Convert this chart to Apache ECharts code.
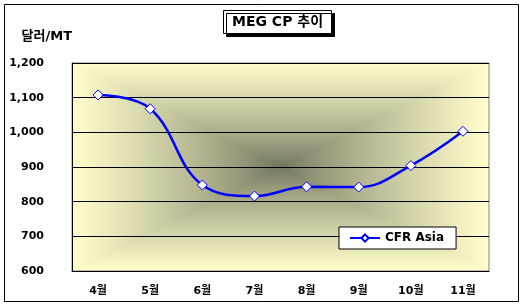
<!DOCTYPE html>
<html>
<head>
<meta charset="utf-8">
<script src="https://cdn.jsdelivr.net/npm/echarts@6/dist/echarts.min.js"></script>
<style>
html,body{margin:0;padding:0;background:#fff;}
#chart{width:524px;height:306px;}
</style>
</head>
<body>
<div id="chart"></div>
<script>
// ---- data ----
var months = ['4월', '5월', '6월', '7월', '8월', '9월', '10월', '11월'];
var cfrAsia = [1108, 1068, 848, 816, 843, 842, 904, 1003];
var yTicks = { min: 600, max: 1200, interval: 100 };
var titleText = 'MEG CP 추이';
var yUnit = '달러/MT';
var seriesName = 'CFR Asia';

// ---- layout ----
var W = 524, H = 306;
var G = { left: 72, top: 63, right: 489, bottom: 271 };

// rectangular "from center" gradient as a pattern canvas
function makeBg() {
  var c = document.createElement('canvas');
  c.width = W; c.height = H;
  var ctx = c.getContext('2d');
  var img = ctx.createImageData(W, H);
  var cx = (G.left + G.right) / 2, cy = (G.top + G.bottom) / 2;
  var hw = (G.right - G.left) / 2, hh = (G.bottom - G.top) / 2;
  var edge = [255, 255, 204], center = [112, 114, 92];
  for (var y = 0; y < H; y++) {
    for (var x = 0; x < W; x++) {
      var t = Math.max(Math.abs(x + 0.5 - cx) / hw, Math.abs(y + 0.5 - cy) / hh);
      if (t > 1) t = 1;
      t = Math.pow(t, 0.8);
      var i = (y * W + x) * 4;
      img.data[i] = center[0] + (edge[0] - center[0]) * t;
      img.data[i + 1] = center[1] + (edge[1] - center[1]) * t;
      img.data[i + 2] = center[2] + (edge[2] - center[2]) * t;
      img.data[i + 3] = 255;
    }
  }
  ctx.putImageData(img, 0, 0);
  return c;
}

var FONT = '"DejaVu Sans", "Noto Sans CJK KR", sans-serif';
var chart = echarts.init(document.getElementById('chart'), null, { renderer: 'canvas' });
chart.setOption({
  animation: false,
  backgroundColor: '#fff',
  title: {
    text: titleText,
    left: 223, top: 10,
    padding: [5, 9, 5, 9],
    backgroundColor: '#fff',
    borderColor: '#000', borderWidth: 1,
    shadowColor: '#000', shadowOffsetX: 3, shadowOffsetY: 3, shadowBlur: 0,
    textStyle: { fontFamily: FONT, fontSize: 14, fontWeight: 'bold', color: '#000' }
  },
  legend: {
    left: 339, top: 227,
    padding: [5, 12, 5, 10],
    backgroundColor: '#fff', borderColor: '#000', borderWidth: 1, borderRadius: 0,
    itemWidth: 30, itemHeight: 9,
    textStyle: { fontFamily: FONT, fontSize: 12, fontWeight: 'bold', color: '#000' },
    data: [seriesName]
  },
  graphic: [{
    type: 'rect', silent: true, z: 100,
    shape: { x: 4.5, y: 4.5, width: 514, height: 297 },
    style: { fill: 'none', stroke: '#000', lineWidth: 1 }
  }],
  grid: {
    left: G.left, top: G.top, right: W - G.right, bottom: H - G.bottom,
    show: true,
    backgroundColor: { image: makeBg(), repeat: 'no-repeat' },
    borderColor: '#808080', borderWidth: 1
  },
  xAxis: {
    type: 'category', data: months, boundaryGap: true,
    axisLine: { lineStyle: { color: '#000', width: 1 } },
    axisTick: { inside: true, length: 4, lineStyle: { color: '#000' } },
    axisLabel: { margin: 15, fontFamily: FONT, fontSize: 11, fontWeight: 'bold', color: '#000' },
    splitLine: { show: false }
  },
  yAxis: {
    type: 'value', min: yTicks.min, max: yTicks.max, interval: yTicks.interval,
    name: yUnit, nameLocation: 'end', nameGap: 20,
    nameTextStyle: { fontFamily: FONT, fontSize: 13, fontWeight: 'bold', color: '#000', align: 'right' },
    axisLine: { show: true, lineStyle: { color: '#000', width: 1 } },
    axisTick: { show: true, inside: true, length: 4, lineStyle: { color: '#000' } },
    axisLabel: {
      margin: 28, fontFamily: FONT, fontSize: 11, fontWeight: 'bold', color: '#000',
      formatter: function (v) { return v.toLocaleString('en-US'); }
    },
    splitLine: { show: true, lineStyle: { color: '#000', width: 1 } }
  },
  series: [{
    name: seriesName, type: 'line', data: cfrAsia,
    smooth: 0.4,
    symbol: 'diamond', symbolSize: 10, showSymbol: true,
    lineStyle: { color: '#0000ff', width: 2.5 },
    itemStyle: { color: '#fff', borderColor: '#0000ff', borderWidth: 1 },
    z: 5
  }]
});
</script>
</body>
</html>
